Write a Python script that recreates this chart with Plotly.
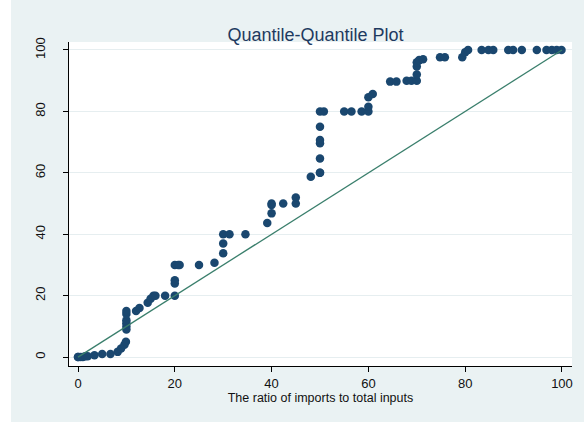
import plotly.graph_objects as go

# Quantile pairs (x quantile, y quantile)
x_q = [0, 0, 0.5, 1, 1.5, 2, 3.4, 5, 6.7, 8.2, 8.9, 9.6, 9.9, 10, 10, 10, 10, 10, 10,
       12, 12.7, 14.4, 15, 15.6, 16, 18, 20, 20, 20, 20, 20.7, 21, 25, 28.2, 30, 30,
       30, 31.3, 34.6, 39.1, 40, 40, 40, 42.4, 45, 45, 48.1, 50, 50, 50, 50, 50, 50,
       50, 50.8, 55, 56.5, 58.6, 60, 60, 60, 60.9, 64.5, 65.8, 67.9, 68.9, 70, 70, 70,
       70, 70.5, 71.3, 74.8, 75.8, 79.4, 80, 80.6, 83.4, 84.8, 85.8, 88.9, 89.9, 91.7,
       94.8, 96.8, 97.9, 98.9, 99.9]
y_q = [0, 0, 0, 0, 0.3, 0.3, 0.6, 1, 1, 1.7, 2.8, 4, 5, 9, 10, 11, 12, 14, 15,
       15, 16, 17.7, 19, 20, 20, 20, 20, 24, 25, 30, 30, 30, 30, 30.7, 33.8, 37,
       40, 40, 40, 43.7, 46.8, 49.5, 50, 50, 50, 52, 58.7, 60, 60, 64.7, 69.6, 70.7, 75,
       80, 80, 80, 80, 80, 80, 81.5, 84.6, 85.7, 89.7, 89.7, 90, 90, 90, 92, 94.6,
       96, 96.7, 97, 97.6, 97.6, 97.6, 99.3, 100, 100, 100, 100, 100, 100, 100,
       100, 100, 100, 100, 100]
ref_x = [0, 100]
ref_y = [0, 100]
ticks = [0, 20, 40, 60, 80, 100]

fig = go.Figure()
fig.add_trace(go.Scatter(x=x_q, y=y_q, mode="markers",
                         marker=dict(color="#1a476f", size=8.5, line=dict(width=0)),
                         showlegend=False))
fig.add_trace(go.Scatter(x=ref_x, y=ref_y, mode="lines",
                         line=dict(color="#3a7f6c", width=1.3), showlegend=False))

axis_font = dict(family="Liberation Sans, Arial, sans-serif", size=13, color="#111111")

fig.update_layout(
    width=584, height=422,
    margin=dict(l=69, r=12, t=42, b=56),
    paper_bgcolor="#eaf2f3",
    plot_bgcolor="#ffffff",
    title=dict(text="Quantile-Quantile Plot", x=0.49, xref="paper", xanchor="center",
               y=1 - 35 / 422, yref="container", yanchor="middle",
               font=dict(family="Liberation Sans, Arial, sans-serif", size=18, color="#1e3a5f")),
    xaxis=dict(range=[-1.86, 102.07], tickvals=ticks, showgrid=False, zeroline=False,
               showline=True, linecolor="#000000", linewidth=1.2, mirror=False,
               ticks="outside", ticklen=5, tickcolor="#000000", tickfont=axis_font,
               title=dict(text="The ratio of imports to total inputs", standoff=0,
                          font=dict(family="Liberation Sans, Arial, sans-serif", size=12.5, color="#111111"))),
    yaxis=dict(range=[-2.9, 102.6], tickvals=ticks, showgrid=True, gridcolor="#e6eef0",
               gridwidth=1, zeroline=False,
               showline=True, linecolor="#000000", linewidth=1.2,
               ticks="outside", ticklen=5, tickcolor="#000000", tickfont=axis_font,
               tickangle=-90, ticklabelstandoff=13),
    shapes=[dict(type="rect", xref="paper", yref="paper", x0=-0.1372, x1=-0.1153,
                 y0=-0.18, y1=1.14, fillcolor="#ffffff", line=dict(width=0), layer="below")],
)

fig.write_html("out.html")
